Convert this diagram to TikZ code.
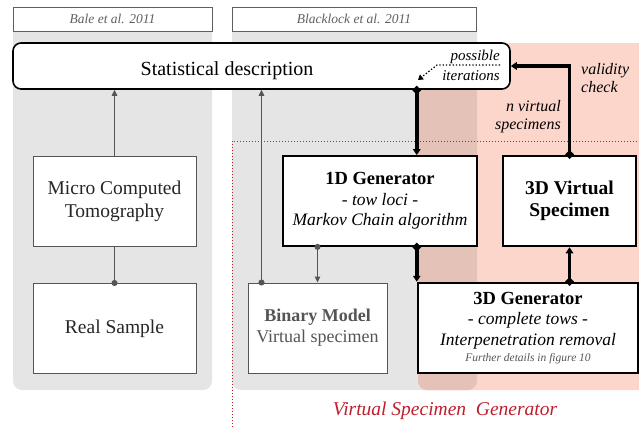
\documentclass[tikz,border=0pt]{standalone}
\usepackage{fontspec}
\setmainfont{Liberation Serif}
\usetikzlibrary{arrows.meta, positioning}

\definecolor{panelgray}{RGB}{229,229,229}
\definecolor{salmon}{RGB}{252,214,202}
\definecolor{overlap}{RGB}{229,194,183}
\definecolor{darkred}{RGB}{190,30,45}
\definecolor{boxgray}{RGB}{85,85,85}
\definecolor{headgray}{RGB}{95,95,95}

\begin{document}
\begin{tikzpicture}[x=1pt, y=-1pt,
    header/.style={draw=headgray, line width=0.9pt, fill=white, minimum height=24pt, inner sep=0pt, font=\fontsize{13.5}{15}\selectfont\itshape, text=headgray},
    statbox/.style={draw=black, line width=1.6pt, fill=white, rounded corners=8pt, minimum width=497pt, minimum height=46pt, inner sep=0pt},
    greybox/.style={draw=boxgray, line width=1pt, fill=white, minimum height=90pt, inner sep=0pt, align=center, font=\fontsize{19.5}{23}\selectfont, text=black!85},
    genbox/.style={draw=black, line width=2.5pt, fill=white, minimum height=90pt, inner sep=0pt, align=center, font=\fontsize{18.5}{20.5}\selectfont},
    thinarrow/.style={draw=boxgray, line width=1pt, {Circle[length=6pt]}-{Triangle[width=5.5pt,length=6pt]}, shorten <=-3pt},
    thickarrow/.style={line width=3.6pt, {Circle[length=7.5pt]}-{Triangle[width=7.5pt,length=6pt]}, shorten <=-3.5pt},
    note/.style={font=\fontsize{16}{18}\selectfont\itshape, inner sep=0pt}
]
\useasboundingbox (0,0) rectangle (639,426);
% Background panels
\fill[panelgray, rounded corners=9pt] (13,20) rectangle (212,390);
\fill[panelgray, rounded corners=9pt] (232,20) rectangle (477,390);
\fill[salmon, rounded corners=9pt] (418,43) rectangle (660,390);
\fill[overlap, rounded corners=9pt] (418,43) rectangle (477,390);
% Virtual specimen generator frame
\draw[darkred, dotted, line width=1pt] (232,430) -- (232,141) -- (645,141);
\node[anchor=base, font=\fontsize{19.5}{22}\selectfont\itshape, text=darkred] (vsg) at (445,415) {Virtual Specimen\ \ Generator};
% Headers
\node[header, minimum width=199pt] (bale) at (112.5,19) {Bale et al. 2011};
\node[header, minimum width=244pt] (blacklock) at (354,19) {Blacklock et al. 2011};
% Statistical description
\node[statbox] (stat) at (261.5,66) {};
\node[anchor=base, font=\fontsize{20}{22}\selectfont] (statlbl) at (227,75) {Statistical description};
\node[note, font=\fontsize{15}{20}\selectfont\itshape, align=right, anchor=east] (iter) at (500,65) {possible\\iterations};
% Boxes
\node[greybox, minimum width=163pt] (mct) at (114.5,201) {Micro Computed\\Tomography};
\node[greybox, minimum width=163pt] (real) at (114.5,328.5) {Real Sample};
\node[greybox, minimum width=139pt, text=boxgray, font=\fontsize{18}{21}\selectfont] (binary) at (317.5,328) {\textbf{Binary Model}\\Virtual specimen};
\node[genbox, line width=1.8pt, minimum width=194pt] (gen1d) at (380,201) {\textbf{1D Generator}\\{\fontsize{17.5}{20.5}\selectfont\itshape - tow loci -}\\{\fontsize{17.5}{20.5}\selectfont\itshape Markov Chain algorithm}};
\node[genbox, minimum width=133pt, font=\fontsize{19.5}{22}\selectfont\bfseries] (virt3d) at (569.5,201) {3D Virtual\\Specimen};
\node[genbox, minimum width=220pt] (gen3d) at (528,328) {\textbf{3D Generator}\\{\fontsize{17.5}{20.5}\selectfont\itshape - complete tows -}\\{\fontsize{17.5}{20.5}\selectfont\itshape Interpenetration removal}\\[-4pt]{\fontsize{11.5}{13}\selectfont\itshape\color{boxgray} Further details in figure 10}};
% Labels
\node[note, align=left, anchor=west] (validity) at (581,78.5) {validity\\check};
\node[note, align=right, anchor=east] (nvirt) at (561,117) {n virtual\\specimens};
% Thin connectors
\draw[thinarrow, {Circle[length=6pt]}-] (real.north) -- (mct.south);
\draw[thinarrow, -{Triangle[width=5.5pt,length=6pt]}, shorten <=0pt] (mct.north) -- (mct.north |- stat.south);
\draw[thinarrow] ([xshift=14pt]binary.north west) -- ([xshift=14pt]binary.north west |- stat.south);
\draw[thinarrow] (binary.north |- gen1d.south) -- (binary.north);
% Thick connectors
\draw[thickarrow] (gen3d.north west |- stat.south) -- (gen3d.north west |- gen1d.north);
\draw[thickarrow] (gen3d.north west |- gen1d.south) -- (gen3d.north west);
\draw[thickarrow] (virt3d.south |- gen3d.north) -- (virt3d.south);
\draw[thickarrow] (virt3d.north) |- (stat.east);
% Iterations
\coordinate (itertip) at (418,80);
\draw[dotted, line width=1.3pt, -{Triangle[width=6pt,length=5pt]}] (iter.east) -- ++(-63,0) -- (itertip);
\end{tikzpicture}
\end{document}
